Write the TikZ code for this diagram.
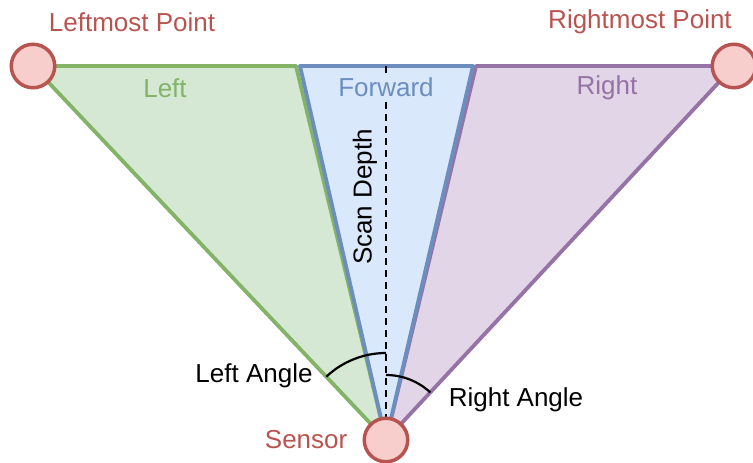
\documentclass[tikz,border=0pt]{standalone}
\usepackage{fontspec}
\setmainfont{Liberation Sans}
\usepackage{xcolor}
\usetikzlibrary{positioning,calc,backgrounds}
\definecolor{grnF}{HTML}{D5E8D4}
\definecolor{grnD}{HTML}{82B366}
\definecolor{bluF}{HTML}{DAE8FC}
\definecolor{bluD}{HTML}{6C8EBF}
\definecolor{purF}{HTML}{E1D5E7}
\definecolor{purD}{HTML}{9673A6}
\definecolor{redF}{HTML}{F8CECC}
\definecolor{redD}{HTML}{B85450}
\tikzset{
  pnt/.style={circle,draw=redD,fill=redF,line width=3.5pt,
              minimum size=43.5pt,inner sep=0pt},
  zone/.style={line width=3.8pt,line join=round},
  txt/.style={inner sep=0pt,font=\fontsize{26}{30}\selectfont},
  ang/.style={line width=2.2pt},
  dpt/.style={line width=2pt,dash pattern=on 7pt off 5pt},
}
\begin{document}
\begin{tikzpicture}[x=1pt,y=-1pt]
\useasboundingbox (0,0) rectangle (753,463);
% points
\node[pnt] (lmost) at (33,66) {};
\node[pnt] (rmost) at (734,66) {};
\node[pnt] (sensor) at (386,440) {};
\coordinate (ltop) at (296,66);
\coordinate (ftopl) at (300,66);
\coordinate (ftopr) at (473,66);
\coordinate (rtop) at (476,66);
\coordinate (fwdtop) at (386,66);
% zones
\begin{scope}[on background layer]
\draw[zone,draw=grnD,fill=grnF] (lmost.center) -- (ltop) -- (sensor.center) -- cycle;
\draw[zone,draw=purD,fill=purF] (rtop) -- (rmost.center) -- (sensor.center) -- cycle;
\draw[zone,draw=bluD,fill=bluF] (ftopl) -- (ftopr) -- (sensor.center) -- cycle;
\draw[dpt] (fwdtop) -- (sensor.north);
\end{scope}
% angles
\draw[ang] ($(sensor.center)+(0,-87)$) arc[start angle=-90,end angle=-133.3,radius=87];
\draw[ang] ($(sensor.center)+(0,-65)$) arc[start angle=-90,end angle=-47,radius=65];
% labels
\node[txt,text=redD] (lmostlbl) at (132,22) {Leftmost Point};
\node[txt,text=redD] (rmostlbl) at (640,22) {Rightmost Point};
\node[txt,text=grnD] (leftlbl) at (165,88) {Left};
\node[txt,text=bluD,fill=bluF] (fwdlbl) at (386,87) {Forward};
\node[txt,text=purD] (rightlbl) at (607,88) {Right};
\node[txt,rotate=90] (depthlbl) at (365,197) {Scan Depth};
\node[txt] (langlbl) at (254,376) {Left Angle};
\node[txt] (ranglbl) at (516,400) {Right Angle};
\node[txt,text=redD,left=15pt of sensor] (senslbl) {Sensor};
\end{tikzpicture}
\end{document}
